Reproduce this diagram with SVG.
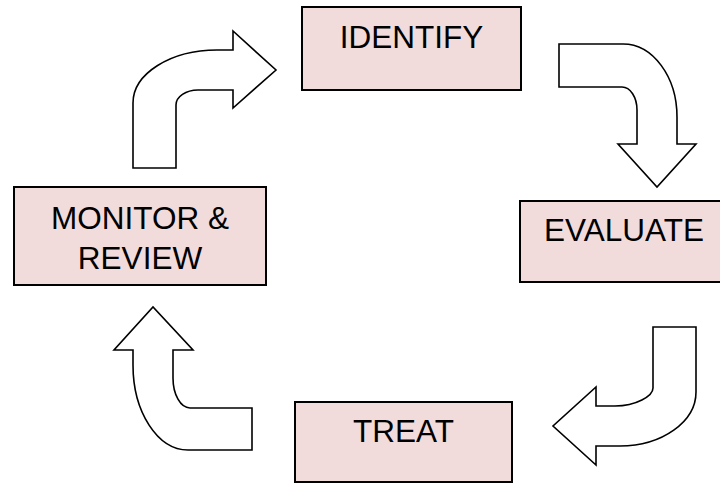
<svg xmlns="http://www.w3.org/2000/svg" width="720" height="484" viewBox="0 0 720 484">
<style>
.box{fill:#F2DCDB;stroke:#000;stroke-width:2}
.lbl{font-family:"Liberation Sans",Arial,sans-serif;font-size:31.5px;fill:#000;text-anchor:middle}
.arr{fill:#fff;stroke:#000;stroke-width:1.6;stroke-linejoin:miter}
</style>
<rect width="720" height="484" fill="#fff"/>
<g id="connectors">
<path class="arr" d="M133,168 L176,168 L176,105 C176,96.7 185.9,90 198,90 L233,90 L233,108 L276,70 L233,31 L233,50 L217,50 C170.6,50 133,73.7 133,103 Z"/>
<path class="arr" d="M559,44 L623,44 C652.8,44 677,76.7 677,117 L677,144 L696,144 L657,187 L618,144 L637,144 L637,110 C637,97.3 630.3,87 622,87 L559,87 Z"/>
<path class="arr" d="M653,327 L696,327 L696,392 C696,421.8 662,446 620,446 L596,446 L596,465 L553,426 L596,387 L596,406 L615,406 C636,406 653,396 653,388 Z"/>
<path class="arr" d="M252,450 L188,450 C157.6,450 133,412 133,365 L133,350 L114,350 L153,307 L193,350 L173,350 L173,378 C173,394.6 180.6,408 190,408 L252,408 Z"/>
</g>
<g id="identify">
<rect class="box" x="302" y="7" width="219" height="83"/>
<text class="lbl" x="411.5" y="48">IDENTIFY</text>
</g>
<g id="evaluate">
<rect class="box" x="520" y="201" width="210" height="81"/>
<text class="lbl" x="624" y="241">EVALUATE</text>
</g>
<g id="treat">
<rect class="box" x="295" y="402" width="217" height="80"/>
<text class="lbl" x="403.5" y="442">TREAT</text>
</g>
<g id="monitor">
<rect class="box" x="14" y="187" width="252" height="98"/>
<text class="lbl" x="140" y="229">MONITOR &amp;</text>
<text class="lbl" x="140" y="269">REVIEW</text>
</g>
</svg>
